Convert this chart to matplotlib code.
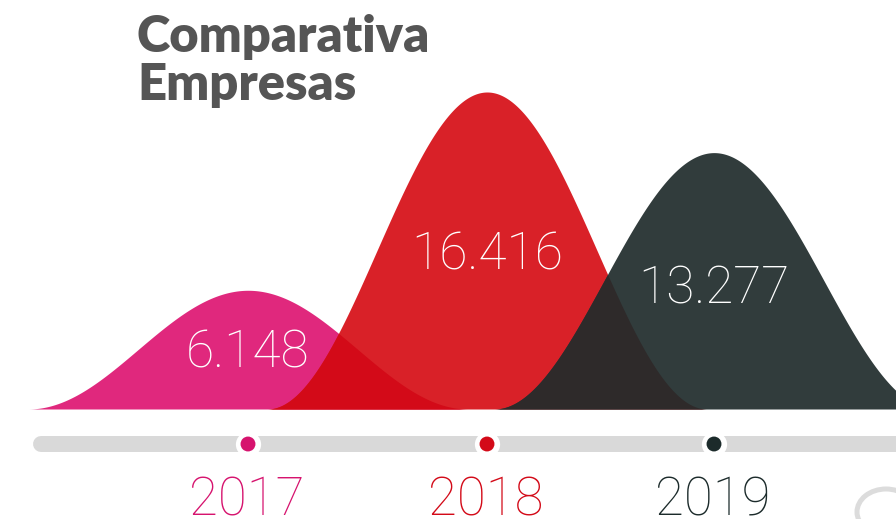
import numpy as np
import matplotlib.pyplot as plt
from matplotlib.patches import Ellipse

# data
years = ['2017', '2018', '2019']
values = [6148, 16416, 13277]
labels = ['6.148', '16.416', '13.277']

# style
fill_colors = ['#E0287D', '#D92128', '#313C3C']
dot_colors = ['#D6136E', '#D30A18', '#1C2B2B']
overlap_colors = ['#D30A18', '#2E2A2A']
centers = [248, 487, 714]      # px
label_base = [367, 270, 303]   # px, text baselines
base_y = 409
half_w = 220
px_per_unit = 317 / 16416

def bump(x, c, h):
    d = np.abs(x - c)
    y = np.where(d < half_w, np.cos(np.pi * d / (2 * half_w)) ** 2, 0.0)
    return h * y

fig = plt.figure(figsize=(8.96, 5.19), dpi=100)
ax = fig.add_axes([0, 0, 1, 1])
ax.set_xlim(0, 896)
ax.set_ylim(519, 0)
ax.axis('off')

x = np.linspace(0, 960, 2000)
curves = [bump(x, c, v * px_per_unit) for c, v in zip(centers, values)]

for i, (cv, col) in enumerate(zip(curves, fill_colors)):
    m = cv > 0
    ax.fill_between(x, base_y, base_y - cv, where=m, color=col, lw=0, zorder=2 + 2 * i)
    if i > 0:
        ov = np.minimum(curves[i - 1], cv)
        ax.fill_between(x, base_y, base_y - ov, where=ov > 0, color=overlap_colors[i - 1],
                        lw=0, zorder=3 + 2 * i)

for c, y, lab in zip(centers, label_base, labels):
    ax.text(c, y, lab, color='white', fontsize=37, family='Roboto', fontweight='light',
            ha='center', va='baseline', zorder=20)

# timeline
ax.plot([41, 905], [444, 444], color='#D9D9D9', lw=11.5, solid_capstyle='round', zorder=1)
ax.scatter(centers, [444] * 3, s=330, color='white', zorder=5, lw=0)
ax.scatter(centers, [444] * 3, s=115, color=dot_colors, zorder=6, lw=0)

for c, yr, col in zip(centers, years, dot_colors):
    ax.text(c - 1, 515, yr, color=col, fontsize=38, family='Roboto', fontweight='light',
            ha='center', va='baseline')

ax.add_patch(Ellipse((886, 512), 58, 46, fill=False, ec='#DCDCDC', lw=3.6, zorder=1))

ax.text(137, 52, 'Comparativa', color='#555555', fontsize=36.5, fontweight='heavy',
        family='Lato', ha='left', va='baseline')
ax.text(137, 100, 'Empresas', color='#555555', fontsize=36.5, fontweight='heavy',
        family='Lato', ha='left', va='baseline')

fig.savefig('out.png', dpi=100)
